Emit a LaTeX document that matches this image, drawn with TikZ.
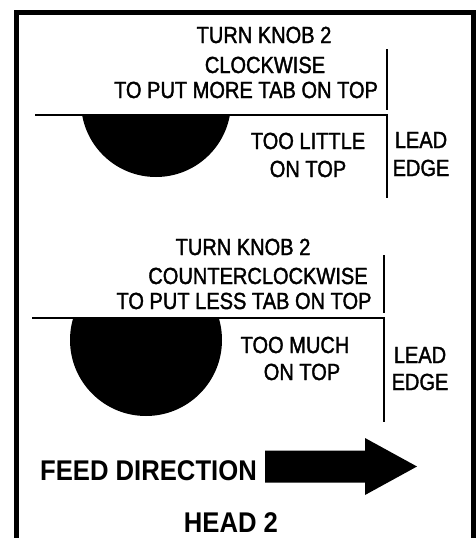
\documentclass[tikz,border=0pt]{standalone}
\usepackage{fontspec}
\newfontfamily\lblfont[FakeStretch=0.86,FakeBold=1.6]{Liberation Sans}
\newfontfamily\bigfont[FakeStretch=0.9]{Liberation Sans}
\tikzset{
  small/.style={font=\lblfont\fontsize{23.3}{25}\selectfont, inner sep=0pt, anchor=base},
  big/.style={font=\bigfont\bfseries\fontsize{28.5}{30}\selectfont, inner sep=0pt, anchor=base},
  rule/.style={line width=2pt},
  frame/.style={line width=5pt, line join=miter}
}
\begin{document}
\begin{tikzpicture}[x=1pt,y=-1pt]
\useasboundingbox (0,0) rectangle (475,538);
% outer frame, open at the bottom
\draw[frame] (16.5,538) -- (16.5,12.5) -- (473,12.5) -- (473,538);

% ---- upper panel: too little on top ----
\node[small] (t1a) at (264,43) {TURN KNOB 2};
\node[small] (t1b) at (265,73) {CLOCKWISE};
\node[small] (t1c) at (246,98) {TO PUT MORE TAB ON TOP};
\begin{scope}
  \clip (30,114.5) rectangle (390,200);
  \fill (156,102) circle (75);
\end{scope}
\draw[rule] (35,114.5) -- (386.5,114.5) -- (386.5,198);
\draw[rule] (386.5,49) -- (386.5,110);
\node[small] (l1a) at (308,149) {TOO LITTLE};
\node[small] (l1b) at (308,177) {ON TOP};
\node[small] (e1a) at (421,148) {LEAD};
\node[small] (e1b) at (421,176) {EDGE};

% ---- lower panel: too much on top ----
\node[small] (t2a) at (243,255) {TURN KNOB 2};
\node[small] (t2b) at (258,284) {COUNTERCLOCKWISE};
\node[small] (t2c) at (244,309) {TO PUT LESS TAB ON TOP};
\begin{scope}
  \clip (30,318) rectangle (390,430);
  \fill (146,340) circle (76);
\end{scope}
\draw[rule] (32,318) -- (384,318) -- (384,422);
\draw[rule] (384,255) -- (384,313);
\node[small] (l2a) at (295,353) {TOO MUCH};
\node[small] (l2b) at (302,380) {ON TOP};
\node[small] (e2a) at (420,363) {LEAD};
\node[small] (e2b) at (420,390) {EDGE};

% ---- feed direction arrow ----
\node[big, anchor=base west] (feed) at (40,480) {FEED DIRECTION};
\fill (265,450.5) -- (365,450.5) -- (365,438) -- (417,466.5) -- (365,495)
      -- (365,482.5) -- (265,482.5) -- cycle;
\node[big] (head) at (231,532) {HEAD 2};
\end{tikzpicture}
\end{document}
